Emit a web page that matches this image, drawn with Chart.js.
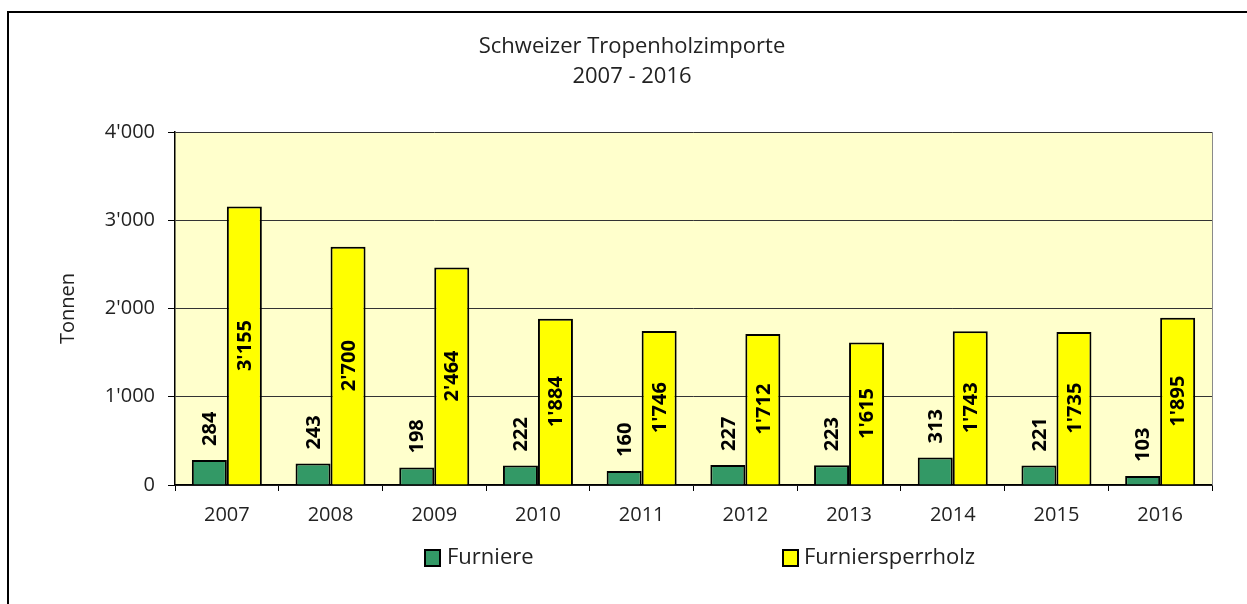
<!DOCTYPE html>
<html><head><meta charset="utf-8">
<script src="https://cdn.jsdelivr.net/npm/chart.js@4.4.0/dist/chart.umd.min.js"></script>
<style>html,body{margin:0;padding:0;background:#fff;}canvas{display:block;}</style>
</head><body>
<canvas id="c" width="1247" height="604"></canvas>
<script>
const years = ['2007','2008','2009','2010','2011','2012','2013','2014','2015','2016'];
const furniere = [284, 243, 198, 222, 160, 227, 223, 313, 221, 103];
const furniersperrholz = [3155, 2700, 2464, 1884, 1746, 1712, 1615, 1743, 1735, 1895];
const seriesNames = ['Furniere', 'Furniersperrholz'];
const seriesColors = ['#339966', '#FFFF00'];
const yTickValues = [0, 1000, 2000, 3000, 4000];
const titleLines = ['Schweizer Tropenholzimporte', '2007 - 2016'];
const yAxisTitle = 'Tonnen';

const FONT = '"Open Sans", "DejaVu Sans", sans-serif';
const fmt = v => {
  const s = String(Math.round(v));
  return s.replace(/\B(?=(\d{3})+(?!\d))/g, "'");
};

const decor = {
  id: 'decor',
  beforeDraw(chart) {
    const ctx = chart.ctx, a = chart.chartArea;
    ctx.save();
    ctx.fillStyle = '#fff';
    ctx.fillRect(0, 0, chart.width, chart.height);
    ctx.strokeStyle = '#000';
    ctx.lineWidth = 2;
    ctx.strokeRect(8, 12, chart.width + 20, chart.height + 20);
    ctx.fillStyle = '#FFFFCC';
    ctx.fillRect(a.left, a.top, a.right - a.left, a.bottom - a.top);
    ctx.restore();
  },
  afterDatasetsDraw(chart) {
    const ctx = chart.ctx, a = chart.chartArea;
    ctx.save();
    ctx.strokeStyle = '#8a8a8a';
    ctx.lineWidth = 1;
    ctx.beginPath();
    ctx.moveTo(a.right + 0.5, a.top);
    ctx.lineTo(a.right + 0.5, a.bottom);
    ctx.stroke();
    ctx.font = 'bold 20px ' + FONT;
    ctx.fillStyle = '#000';
    ctx.textAlign = 'center';
    ctx.textBaseline = 'middle';
    chart.data.datasets.forEach((ds, di) => {
      const meta = chart.getDatasetMeta(di);
      meta.data.forEach((el, i) => {
        const txt = fmt(ds.data[i]);
        const w = ctx.measureText(txt).width;
        let cy;
        if (di === 0) cy = el.y - 14 - w / 2;
        else cy = (el.y + el.base) / 2;
        ctx.save();
        ctx.translate(el.x + 1, cy);
        ctx.rotate(-Math.PI / 2);
        ctx.fillText(txt, 0, 0);
        ctx.restore();
      });
    });
    ctx.restore();
  },
  afterDraw(chart) {
    const ctx = chart.ctx;
    const pos = [[425, 447], [783, 804]];
    ctx.save();
    ctx.font = '22px ' + FONT;
    ctx.textBaseline = 'middle';
    ctx.textAlign = 'left';
    chart.data.datasets.forEach((ds, i) => {
      const [bx, tx] = pos[i];
      ctx.fillStyle = ds.backgroundColor;
      ctx.fillRect(bx, 550, 15, 16);
      ctx.strokeStyle = '#000';
      ctx.lineWidth = 2;
      ctx.strokeRect(bx, 550, 15, 16);
      ctx.fillStyle = '#222';
      ctx.fillText(ds.label, tx, 558);
    });
    ctx.restore();
  }
};

new Chart(document.getElementById('c'), {
  type: 'bar',
  data: {
    labels: years,
    datasets: [
      { label: seriesNames[0], data: furniere, backgroundColor: seriesColors[0], borderColor: '#000', borderWidth: 2 },
      { label: seriesNames[1], data: furniersperrholz, backgroundColor: seriesColors[1], borderColor: '#000', borderWidth: 2 }
    ]
  },
  options: {
    responsive: false,
    animation: false,
    devicePixelRatio: 1,
    categoryPercentage: 0.675,
    barPercentage: 1.0,
    layout: { padding: { left: 52, right: 35, top: 0, bottom: 0 } },
    plugins: {
      legend: { display: false },
      tooltip: { enabled: false },
      title: {
        display: true,
        text: titleLines,
        color: '#222',
        font: { family: FONT, size: 22, weight: 'normal', lineHeight: 30 / 22 },
        padding: { top: 32, bottom: 40 }
      }
    },
    scales: {
      x: {
        grid: { offset: true, drawOnChartArea: false, tickLength: 6, color: '#000', tickColor: '#000', lineWidth: 1 },
        border: { color: '#000', width: 1.5 },
        ticks: { color: '#222', font: { family: FONT, size: 20 }, padding: 12, maxRotation: 0 },
        afterFit(s) { s.height = 119; }
      },
      y: {
        min: 0, max: 4000,
        afterBuildTicks(s) { s.ticks = yTickValues.map(v => ({ value: v })); },
        ticks: { color: '#222', font: { family: FONT, size: 20 }, padding: 13, callback: v => fmt(v) },
        grid: { color: '#333', tickLength: 7, tickColor: '#000', lineWidth: 1 },
        border: { color: '#000', width: 1.5 },
        title: { display: true, text: yAxisTitle, color: '#222', font: { family: FONT, size: 20 }, padding: { top: 4, bottom: 0 } },
        afterFit(s) { s.width = 123; }
      }
    }
  },
  plugins: [decor]
});
</script>
</body></html>
